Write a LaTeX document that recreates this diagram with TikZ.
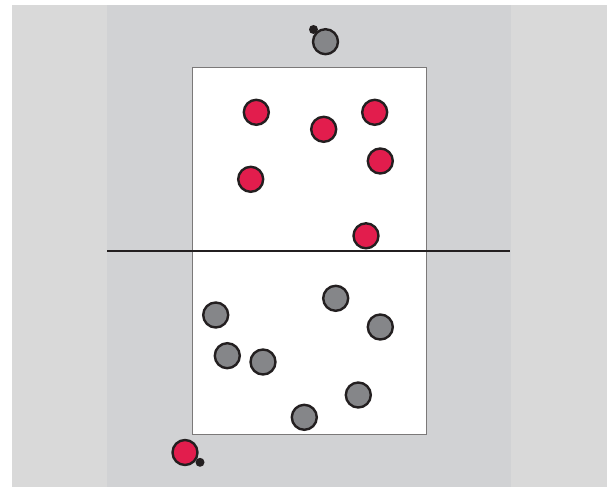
\documentclass[tikz,border=0pt]{standalone}
\begin{document}
\begin{tikzpicture}[x=1pt,y=-1pt,
  red/.style={circle,draw=ink,fill=crimson,line width=2.4pt,minimum size=25pt,inner sep=0pt},
  grey/.style={circle,draw=ink,fill=ballgrey,line width=2.4pt,minimum size=25pt,inner sep=0pt},
  dotball/.style={circle,fill=ink,minimum size=9pt,inner sep=0pt}]
\definecolor{ink}{HTML}{231F20}
\definecolor{crimson}{HTML}{E21D4D}
\definecolor{ballgrey}{HTML}{858689}
\definecolor{outerbg}{HTML}{D9D9D9}
\definecolor{innerbg}{HTML}{D1D2D4}
\useasboundingbox (0,0) rectangle (607,487);
\fill[white] (0,0) rectangle (607,487);
\fill[outerbg] (12,5) rectangle (607,487);
\fill[innerbg] (107,5) rectangle (511,487);
\node[draw=ink!60,line width=1.3pt,fill=white,minimum width=234pt,minimum height=367pt,inner sep=0pt,anchor=north west] (court) at (192,67) {};
\coordinate (netl) at (107,251);
\coordinate (netr) at (510,251);
\draw[ink,line width=1.5pt] (netl) -- (netr);
% red team
\node[red] (r1) at (256.3,112.3) {};
\node[red] (r2) at (323.7,129.3) {};
\node[red] (r3) at (374.7,112.3) {};
\node[red] (r4) at (380.3,161) {};
\node[red] (r5) at (250.7,179.3) {};
\node[red] (r6) at (366,235.8) {};
% grey team
\node[grey] (g1) at (215.7,315) {};
\node[grey] (g2) at (335.7,298.3) {};
\node[grey] (g3) at (380.3,327) {};
\node[grey] (g4) at (227.3,355.7) {};
\node[grey] (g5) at (263,362) {};
\node[grey] (g6) at (358.3,395) {};
\node[grey] (g7) at (304.3,417.3) {};
% servers
\node[dotball] (d1) at (313.5,29.5) {};
\node[grey] (gs) at (325.5,41.7) {};
\node[dotball] (d2) at (200,462.3) {};
\node[red] (rs) at (185,452.5) {};
\end{tikzpicture}
\end{document}
